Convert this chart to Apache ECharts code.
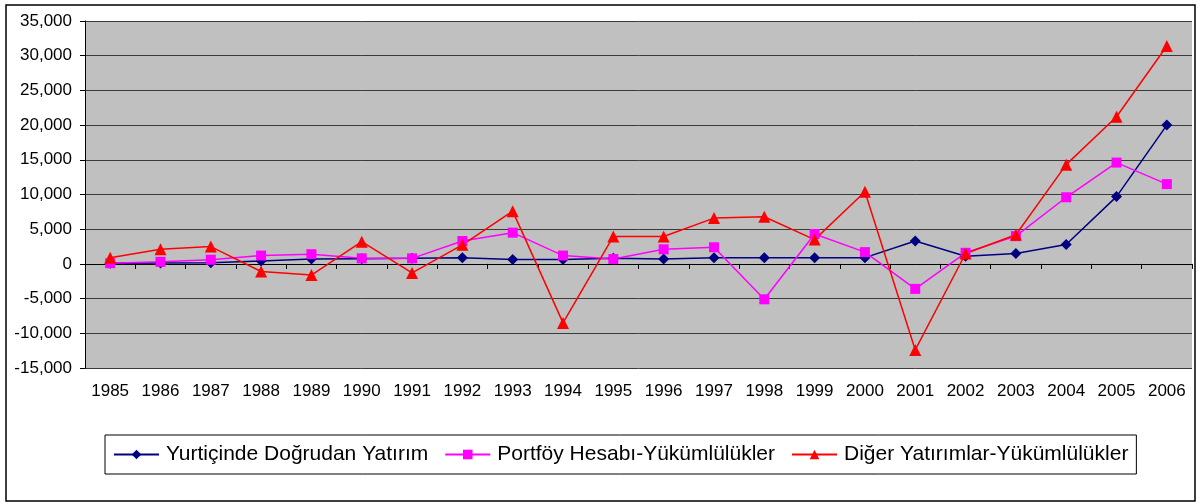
<!DOCTYPE html>
<html>
<head>
<meta charset="utf-8">
<script src="https://cdn.jsdelivr.net/npm/echarts@6/dist/echarts.min.js"></script>
<style>
  html, body { margin: 0; padding: 0; background: #fff; }
  #chart { width: 1198px; height: 504px; }
</style>
</head>
<body>
<div id="chart"></div>
<script>
const years = ['1985', '1986', '1987', '1988', '1989', '1990', '1991', '1992', '1993', '1994', '1995',
  '1996', '1997', '1998', '1999', '2000', '2001', '2002', '2003', '2004', '2005', '2006']

// Yurtiçinde Doğrudan Yatırım
const fdi = [100, 125, 150, 400, 700, 750, 800, 900, 650, 650, 800,
  700, 900, 900, 900, 900, 3300, 1100, 1500, 2800, 9700, 20000]
// Portföy Hesabı-Yükümlülükler
const portfolio = [100, 300, 600, 1200, 1400, 800, 800, 3300, 4500, 1200, 700,
  2100, 2400, -5100, 4300, 1700, -3600, 1600, 4000, 9600, 14600, 11500]
// Diğer Yatırımlar-Yükümlülükler
const other = [900, 2100, 2500, -1100, -1600, 3200, -1300, 2750, 7600, -8500, 3950,
  3950, 6600, 6800, 3500, 10400, -12400, 1500, 4200, 14300, 21200, 31400]

const names = ['Yurtiçinde Doğrudan Yatırım', 'Portföy Hesabı-Yükümlülükler', 'Diğer Yatırımlar-Yükümlülükler']

const chart = echarts.init(document.getElementById('chart'), null, { renderer: 'canvas' })

const font = 'Liberation Sans, Arial, sans-serif'

const mkLine = (name, data, color, symbol, size) => ({
  name,
  type: 'line',
  data,
  xAxisIndex: 0,
  symbol,
  symbolSize: size,
  showSymbol: true,
  animation: false,
  lineStyle: { color, width: 1.5 },
  itemStyle: { color }
})

chart.setOption({
  backgroundColor: '#fff',
  animation: false,
  graphic: [{
    type: 'rect',
    shape: { x: 6, y: 5, width: 1189, height: 496 },
    style: { fill: 'none', stroke: '#000', lineWidth: 1.5 },
    silent: true
  }],
  grid: {
    left: 85, right: 6, top: 21, bottom: 136,
    show: true, backgroundColor: '#C0C0C0', borderWidth: 0
  },
  legend: {
    data: names,
    left: 105,
    top: 435,
    padding: [9, 8, 9, 8],
    itemGap: 16,
    itemWidth: 45,
    itemHeight: 12,
    borderColor: '#000',
    borderWidth: 1,
    backgroundColor: '#fff',
    textStyle: { fontFamily: font, fontSize: 21, color: '#000', padding: [0, 0, 0, 2] }
  },
  xAxis: [
    {
      type: 'category',
      data: years,
      boundaryGap: true,
      axisLine: { onZero: true, lineStyle: { color: '#000', width: 1 } },
      axisTick: { show: true, length: 5, inside: false, lineStyle: { color: '#000' } },
      axisLabel: { show: false },
      splitLine: { show: false }
    },
    {
      type: 'category',
      data: years,
      position: 'bottom',
      boundaryGap: true,
      axisLine: { show: false, onZero: false },
      axisTick: { show: false },
      axisLabel: { show: true, margin: 15, fontFamily: font, fontSize: 17, color: '#000', interval: 0 },
      splitLine: { show: false }
    }
  ],
  yAxis: {
    type: 'value',
    min: -15000,
    max: 35000,
    interval: 5000,
    axisLine: { show: true, lineStyle: { color: '#000' } },
    axisTick: { show: true, length: 5, lineStyle: { color: '#000' } },
    axisLabel: {
      margin: 13,
      fontFamily: font,
      fontSize: 17,
      color: '#000',
      formatter: v => v.toLocaleString('en-US')
    },
    splitLine: { show: true, lineStyle: { color: '#3a3a3a', width: 1 } }
  },
  series: [
    mkLine(names[0], fdi, '#000080', 'diamond', 11),
    mkLine(names[1], portfolio, '#FF00FF', 'rect', 10),
    mkLine(names[2], other, '#FF0000', 'triangle', 12)
  ]
})
</script>
</body>
</html>
